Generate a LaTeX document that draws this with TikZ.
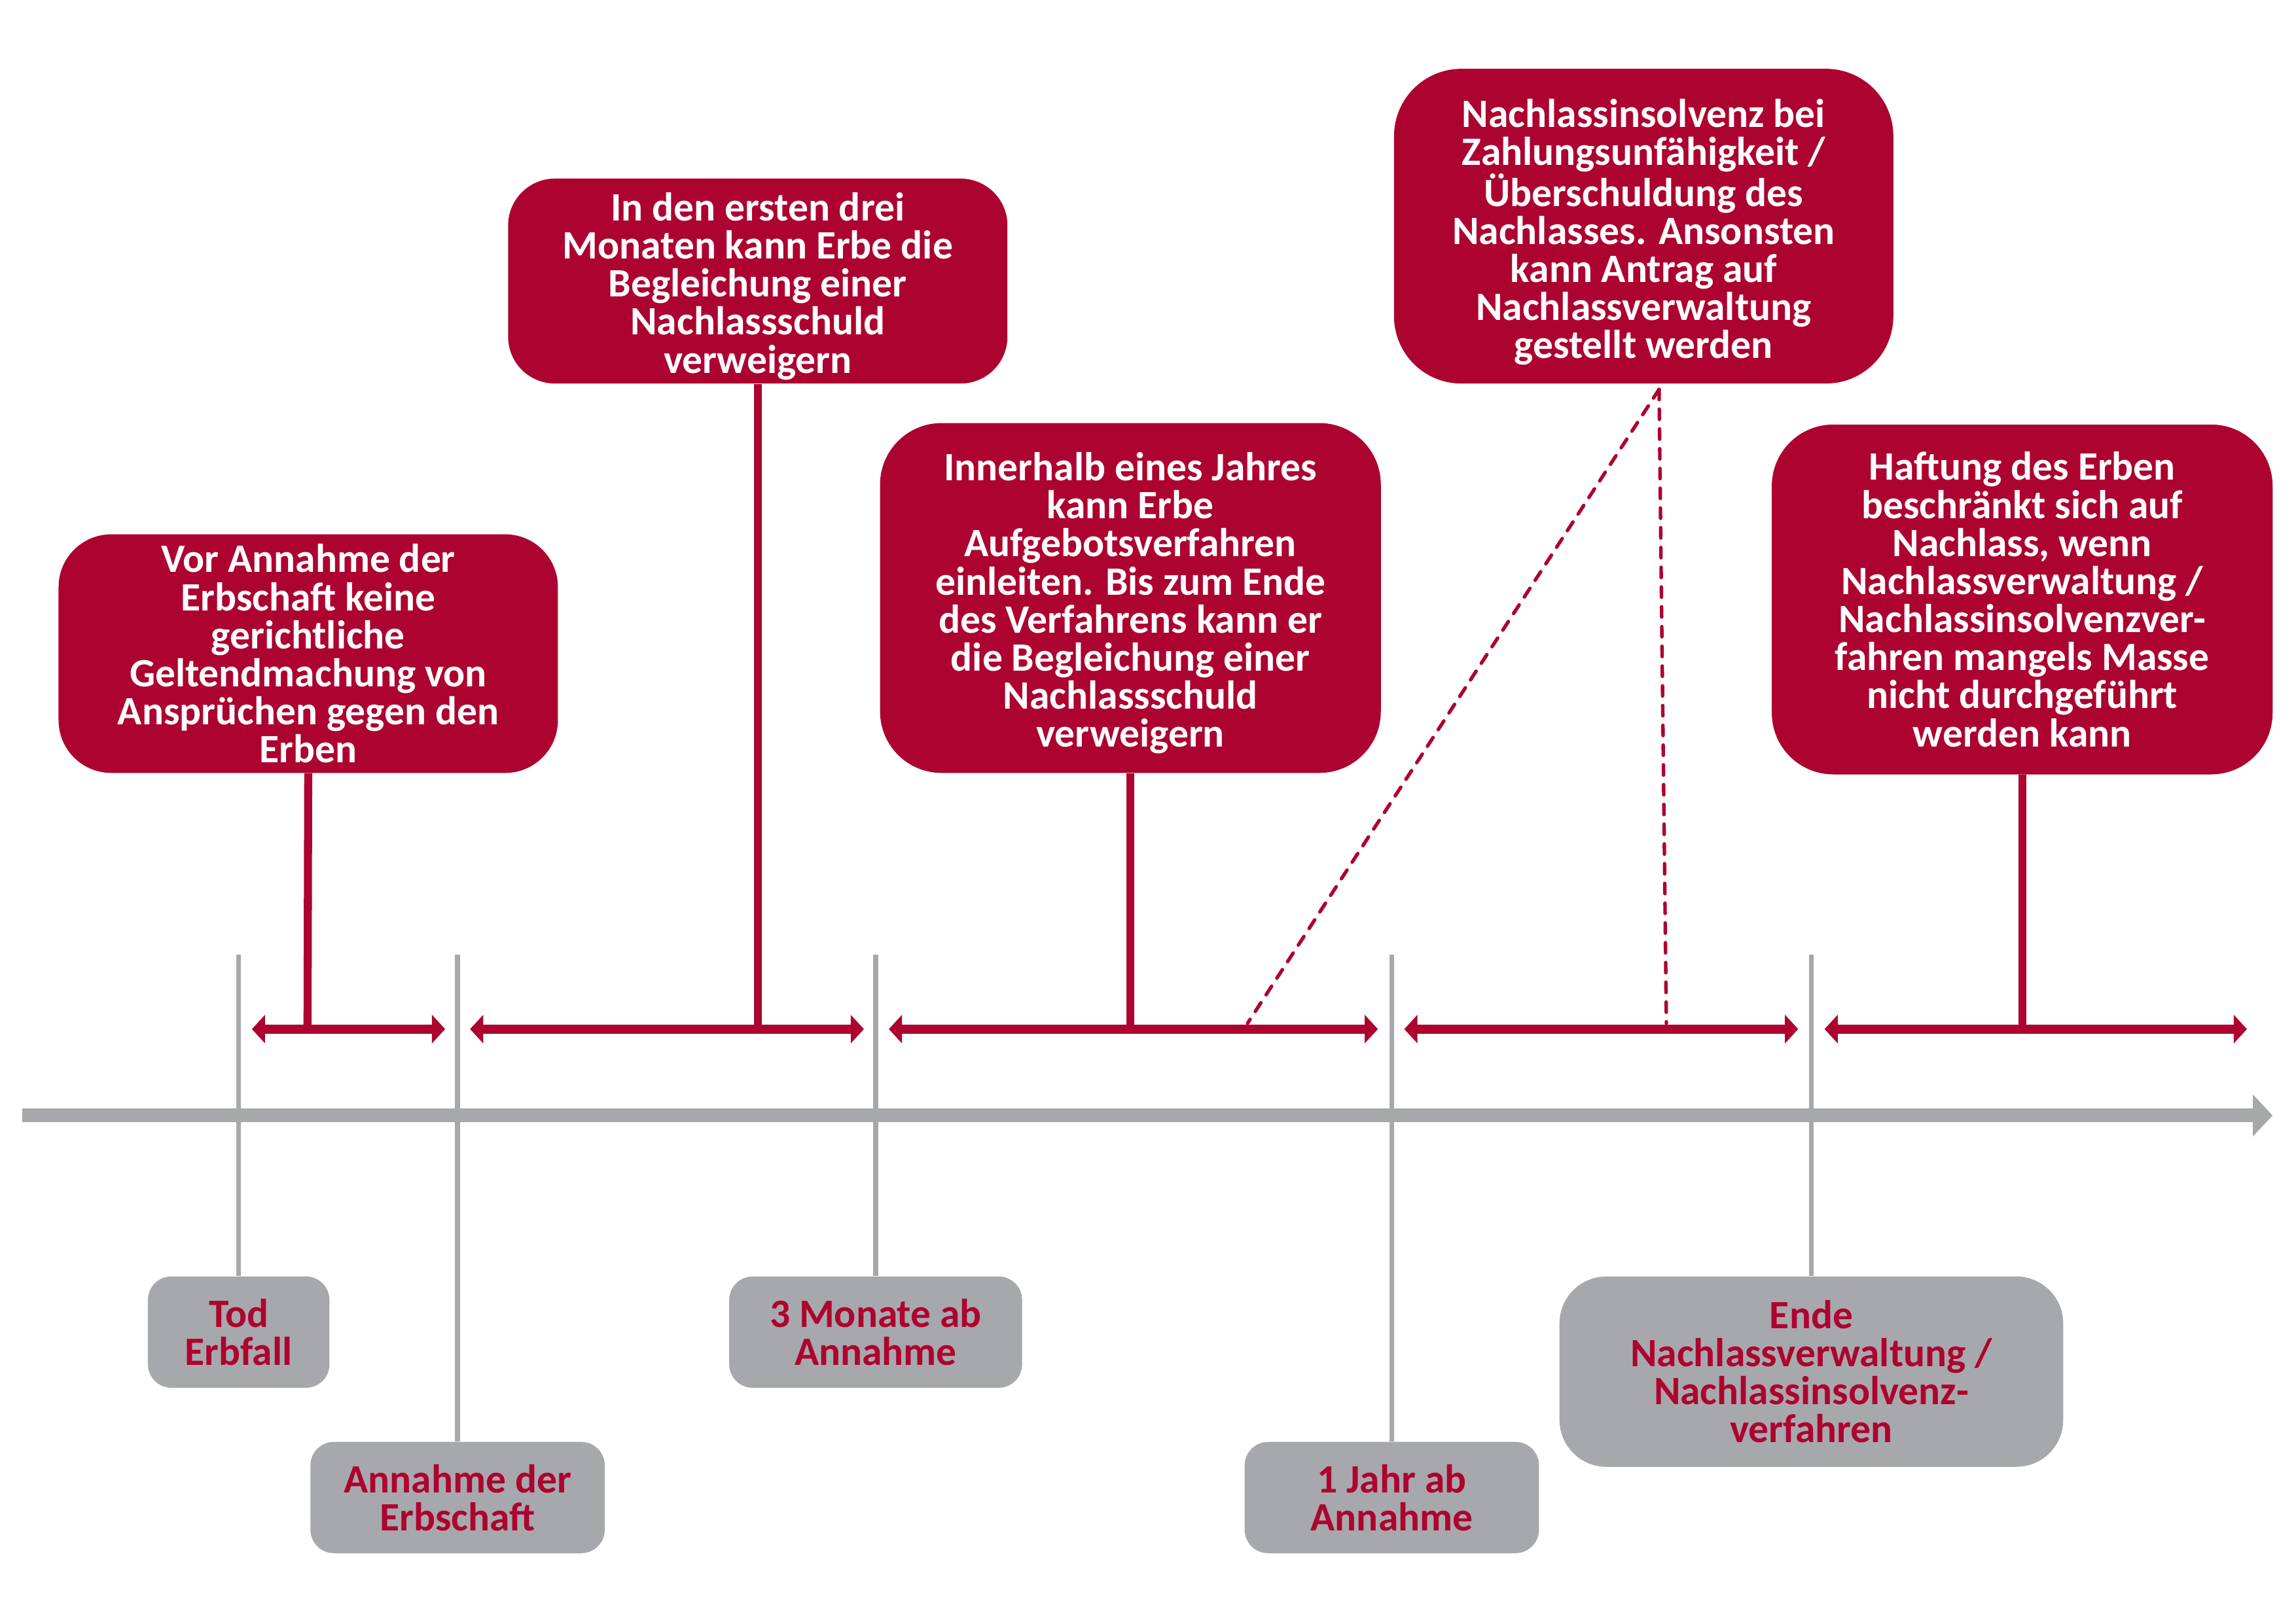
\documentclass[tikz,border=0pt]{standalone}
\usepackage{fontspec}
\setmainfont{Carlito}
\usetikzlibrary{arrows.meta}
\definecolor{tred}{RGB}{173,3,48}
\definecolor{tgray}{RGB}{167,168,172}
\begin{document}
\begin{tikzpicture}[x=1pt,y=-1pt,
  txt/.style={inner sep=0pt, align=center, font=\bfseries\fontsize{27.5}{26}\selectfont},
  redbox/.style={txt, fill=tred, text=white, rounded corners=#1},
  graybox/.style={txt, fill=tgray, text=tred, rounded corners=#1},
  redtext/.style={txt, text=white},
  tick/.style={draw=tgray, line width=3.4pt},
  span/.style={draw=tred, line width=6.5pt, {Triangle[length=9pt,width=19pt]}-{Triangle[length=9pt,width=19pt]}},
  link/.style={draw=tred, line width=5.5pt},
  dlink/.style={draw=tred, line width=2.4pt, line cap=round, dash pattern=on 7pt off 6.5pt},
  axis/.style={draw=tgray, line width=9.5pt, -{Triangle[length=13.5pt,width=28pt]}}]
\useasboundingbox (0,0) rectangle (1568,1109);

% gray event boxes
\node[graybox=16pt, minimum width=124pt, minimum height=76pt] (tod) at (163,910) {Tod\\Erbfall};
\node[graybox=16pt, minimum width=201pt, minimum height=76pt] (ann) at (312.5,1023) {Annahme der\\Erbschaft};
\node[graybox=16pt, minimum width=200pt, minimum height=76pt] (drei) at (598,910) {3 Monate ab\\Annahme};
\node[graybox=16pt, minimum width=201pt, minimum height=76pt] (jahr) at (950.5,1023) {1 Jahr ab\\Annahme};
\node[graybox=32pt, minimum width=344pt, minimum height=130pt] (ende) at (1237,937) {Ende\\Nachlassverwaltung /\\Nachlassinsolvenz-\\verfahren};

% tick tops
\coordinate (t1) at (163,652);
\coordinate (t2) at (312.5,652);
\coordinate (t3) at (598,652);
\coordinate (t4) at (950.5,652);
\coordinate (t5) at (1237,652);
\draw[tick] (t1) -- (tod.north);
\draw[tick] (t2) -- (ann.north);
\draw[tick] (t3) -- (drei.north);
\draw[tick] (t4) -- (jahr.north);
\draw[tick] (t5) -- (ende.north);

% axis
\coordinate (a0) at (15,762);
\coordinate (a1) at (1552,762);
\draw[axis] (a0) -- (a1);

% span coordinates
\coordinate (s1l) at (172,703);   \coordinate (s1r) at (304,703);
\coordinate (s2l) at (321,703);   \coordinate (s2r) at (590,703);
\coordinate (s3l) at (607,703);   \coordinate (s3r) at (941,703);
\coordinate (s4l) at (959,703);   \coordinate (s4r) at (1228,703);
\coordinate (s5l) at (1246,703);  \coordinate (s5r) at (1534.5,703);

% red boxes
\node[redbox=36pt, minimum width=341pt, minimum height=163pt] (b1) at (210.5,446.5)
  {Vor Annahme der\\Erbschaft keine\\gerichtliche\\Geltendmachung von\\Ansprüchen gegen den\\Erben};
\node[redbox=32pt, minimum width=341pt, minimum height=140pt,
  label={[redtext, yshift=-3.5pt]center:{In den ersten drei\\Monaten kann Erbe die\\Begleichung einer\\Nachlassschuld\\verweigern}}] (b2) at (517.5,192) {};
\node[redbox=42pt, minimum width=342pt, minimum height=239pt,
  label={[redtext, yshift=-3.5pt]center:{Innerhalb eines Jahres\\kann Erbe\\Aufgebotsverfahren\\einleiten. Bis zum Ende\\des Verfahrens kann er\\die Begleichung einer\\Nachlassschuld\\verweigern}}] (b3) at (772,408.5) {};
\node[redbox=46pt, minimum width=341pt, minimum height=215pt,
  label={[redtext, yshift=-4pt]center:{Nachlassinsolvenz bei\\Zahlungsunfähigkeit /\\Überschuldung des\\Nachlasses. Ansonsten\\kann Antrag auf\\Nachlassverwaltung\\gestellt werden}}] (b4) at (1122.5,154.5) {};
\node[redbox=42pt, minimum width=342pt, minimum height=239pt] (b5) at (1381,409.5)
  {Haftung des Erben\\beschränkt sich auf\\Nachlass, wenn\\Nachlassverwaltung /\\Nachlassinsolvenzver-\\fahren mangels Masse\\nicht durchgeführt\\werden kann};

% connector feet on the spans
\coordinate (f1) at (210,703);
\coordinate (f2) at (517.5,703);
\coordinate (f3) at (772,703);
\coordinate (f4a) at (852,699);
\coordinate (f4b) at (1138,699);
\coordinate (f5) at (1381,703);
\coordinate (d4) at (1133,266);

\draw[link] (b1.south) -- (f1);
\draw[link] (b2.south) -- (f2);
\draw[link] (b3.south) -- (f3);
\draw[link] (b5.south) -- (f5);
\draw[dlink] (d4) -- (f4a);
\draw[dlink] (d4) -- (f4b);

% spans
\draw[span] (s1l) -- (s1r);
\draw[span] (s2l) -- (s2r);
\draw[span] (s3l) -- (s3r);
\draw[span] (s4l) -- (s4r);
\draw[span] (s5l) -- (s5r);
\end{tikzpicture}
\end{document}
